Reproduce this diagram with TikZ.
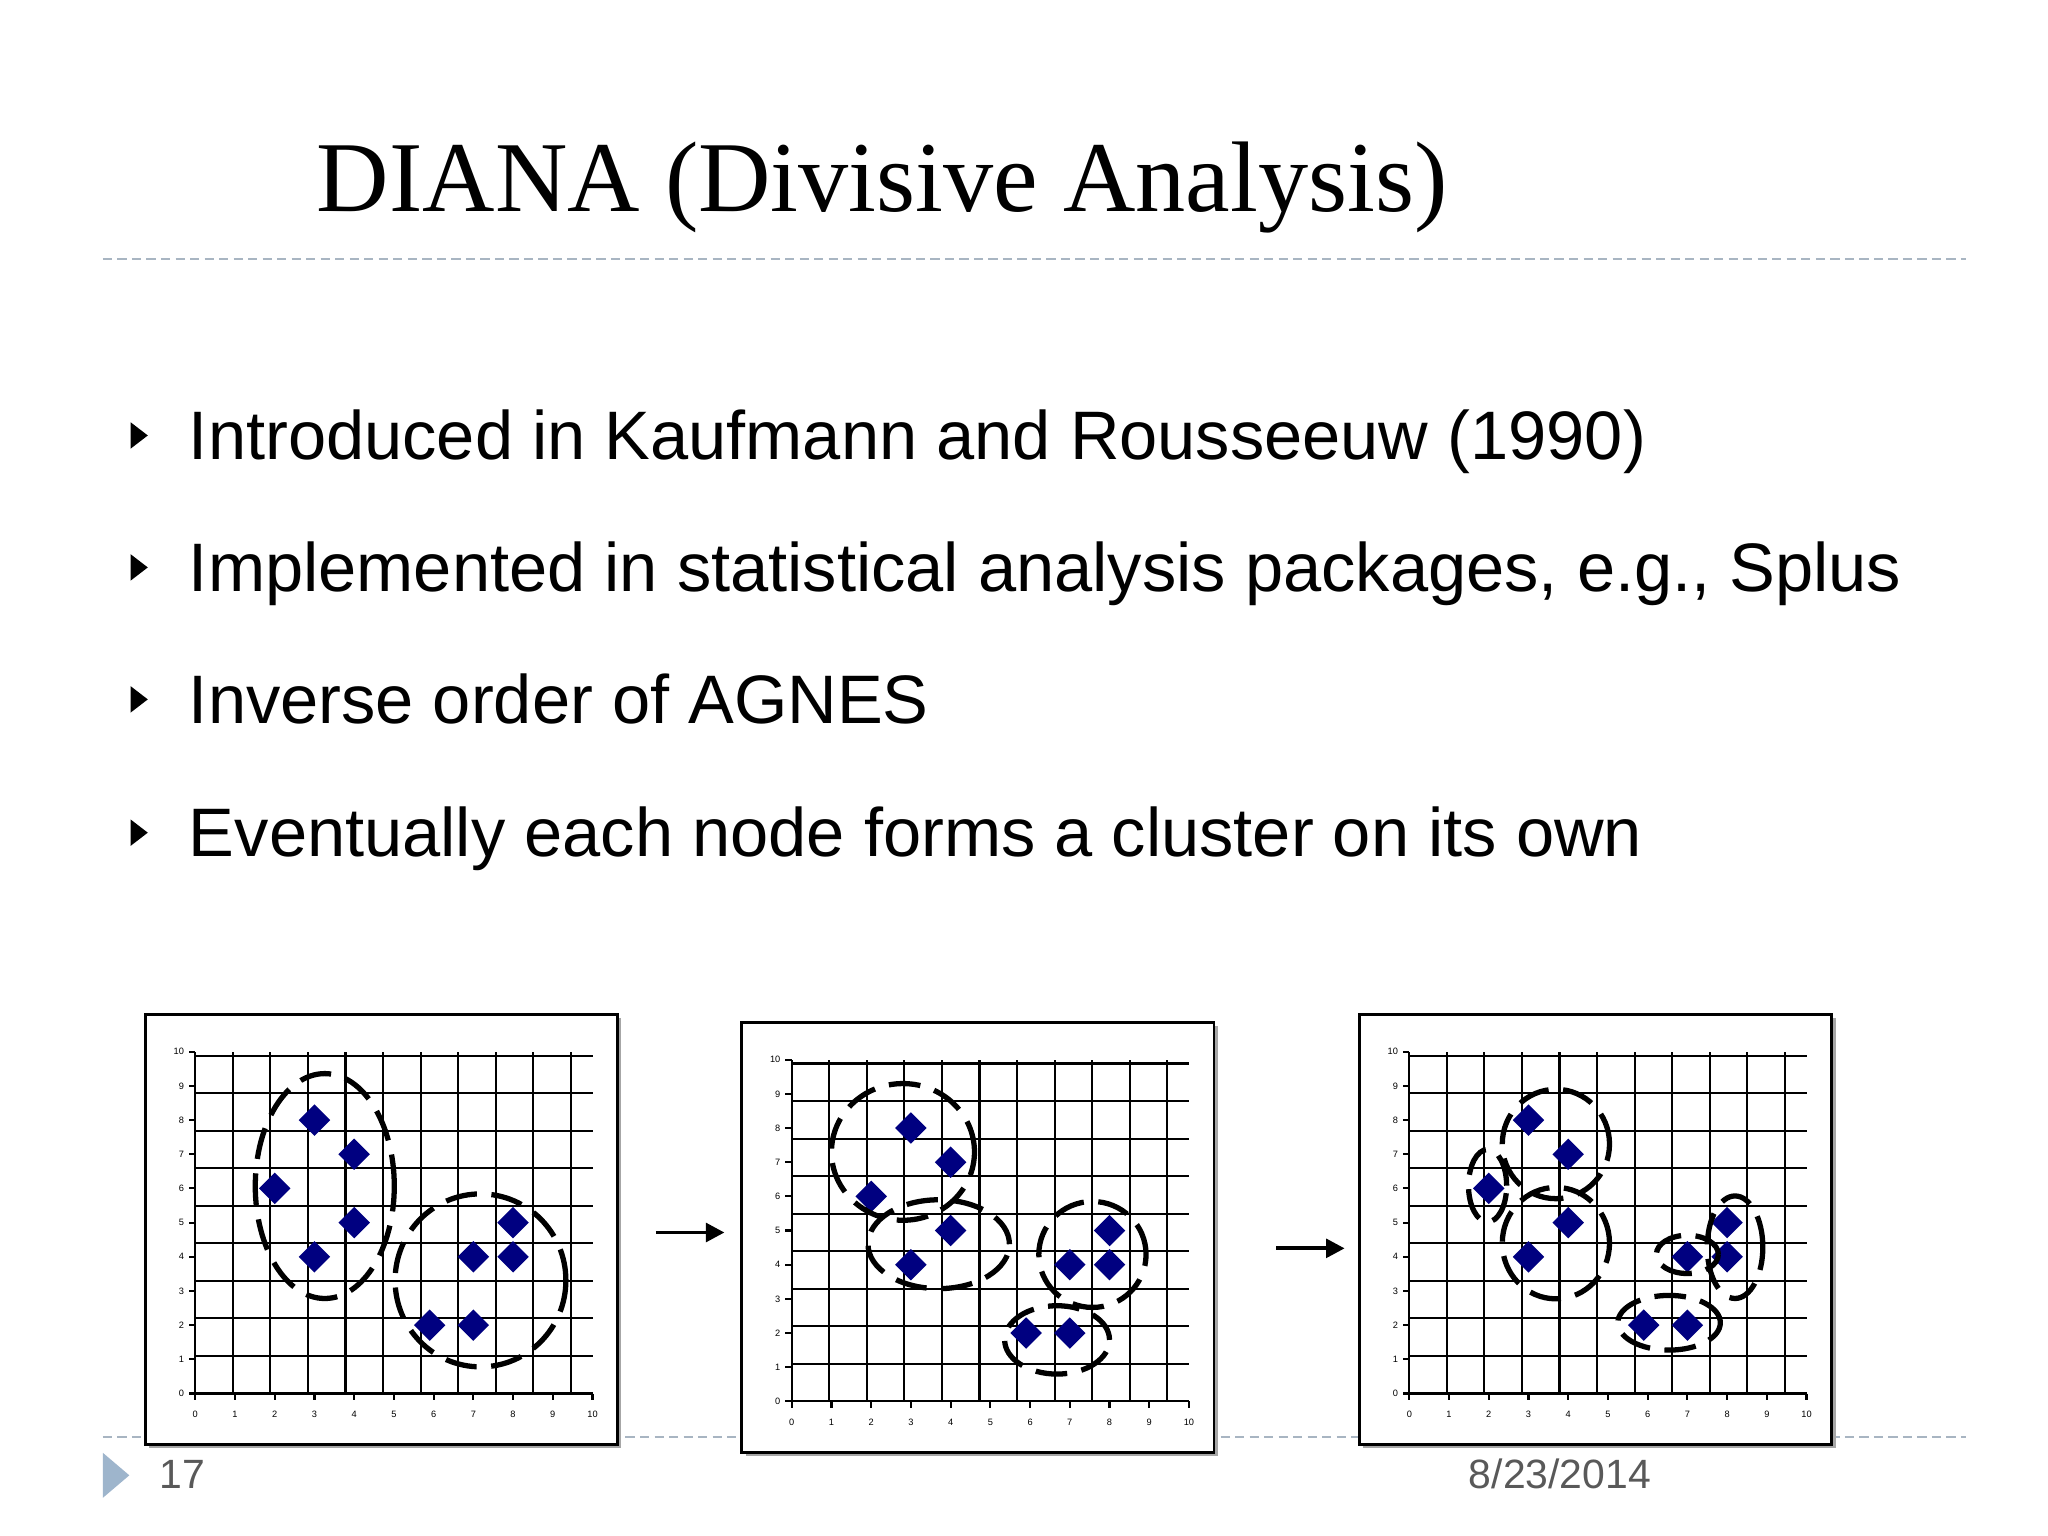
\documentclass[tikz,border=0pt]{standalone}
\usepackage{fontspec}
\setmainfont{Liberation Serif}
\newfontfamily\sansf{Liberation Sans}
\usetikzlibrary{shapes.geometric,arrows.meta}
\definecolor{navypt}{rgb}{0,0,0.5}
\definecolor{ruleblue}{rgb}{0.66,0.71,0.76}
\definecolor{footblue}{rgb}{0.62,0.71,0.80}
\definecolor{footgray}{rgb}{0.35,0.35,0.35}
\tikzset{
  pt/.style={diamond,fill=navypt,inner sep=0pt,minimum width=24pt,minimum height=24pt},
  gridline/.style={line width=1.6pt,black},
  ticklbl/.style={font=\sansf\fontsize{7}{7}\selectfont,inner sep=0pt},
  clus/.style={line width=4pt,dash pattern=on 24pt off 11pt,black},
  chartbox/.style={draw=black,line width=2pt,fill=white},
  rule/.style={ruleblue,line width=1.5pt,dash pattern=on 7pt off 4pt},
  bullettext/.style={font=\sansf\fontsize{52}{52}\selectfont,anchor=base west,inner sep=0pt},
  bulletmark/.style={fill=black},
  flowarrow/.style={line width=3pt,-{Triangle[length=14pt,width=14pt]}},
}
\newcommand{\plotframe}{%
  \fill[gray!70] (-1.26+0.1,-1.5-0.1) rectangle (10.63+0.1,11.08-0.1);
  \draw[chartbox] (-1.26,-1.5) rectangle (10.63,11.08);
  \draw[gridline] (0,0) grid (10,10);
  \foreach \i in {0,...,10}{
    \draw[gridline] (\i,0) -- (\i,-0.2);
    \draw[gridline] (0,\i) -- (-0.17,\i);
    \node[ticklbl] at (\i,-0.6) {\i};
    \node[ticklbl,anchor=east] at (-0.28,\i) {\i};
  }%
}
\begin{document}
\begin{tikzpicture}[x=1pt,y=-1pt]
\useasboundingbox[fill=white] (0,0) rectangle (1552,1164);
% title
\node[font=\fontsize{76}{76}\selectfont,anchor=base west,inner sep=0pt] (title) at (240,160) {DIANA (Divisive Analysis)};
\draw[rule] (78,196) -- (1490,196);
\draw[rule] (78,1089) -- (1490,1089);
% bullets
\foreach \yy/\txt [count=\k] in {348/{Introduced in Kaufmann and Rousseeuw (1990)},448/{Implemented in statistical analysis packages, e.g., Splus},548/{Inverse order of AGNES},649/{Eventually each node forms a cluster on its own}}{
  \fill[bulletmark] (99,\yy-28) -- (112,\yy-18) -- (99,\yy-8) -- cycle;
  \node[bullettext] (b\k) at (143,\yy) {\txt};
}
% chart 1
\begin{scope}[shift={(148,1056)},x=30.1pt,y=25.9pt]
  \plotframe
  \foreach \px/\py [count=\n] in {2/6,3/8,4/7,4/5,3/4,5.9/2,7/2,7/4,8/4,8/5}
    \node[pt] (p1n\n) at (\px,\py) {};
  \draw[clus] (3.26,6.07) ellipse [x radius=1.75, y radius=3.29];
  \draw[clus] (7.18,3.31) ellipse [x radius=2.15, y radius=2.53];
\end{scope}
% chart 2
\begin{scope}[shift={(600,1062)},x=30.1pt,y=25.9pt]
  \plotframe
  \foreach \px/\py [count=\n] in {2/6,3/8,4/7,4/5,3/4,5.9/2,7/2,7/4,8/4,8/5}
    \node[pt] (p2n\n) at (\px,\py) {};
  \draw[clus] (2.8,7.3) ellipse [x radius=1.8, y radius=2.0];
  \draw[clus] (3.7,4.6) ellipse [x radius=1.78, y radius=1.3];
  \draw[clus] (7.57,4.3) ellipse [x radius=1.35, y radius=1.55];
  \draw[clus] (6.68,1.8) ellipse [x radius=1.32, y radius=1.0];
\end{scope}
% chart 3
\begin{scope}[shift={(1068,1056)},x=30.1pt,y=25.9pt]
  \plotframe
  \foreach \px/\py [count=\n] in {2/6,3/8,4/7,4/5,3/4,5.9/2,7/2,7/4,8/4,8/5}
    \node[pt] (p3n\n) at (\px,\py) {};
  \draw[clus] (1.97,6.08) ellipse [x radius=0.48, y radius=1.06];
  \draw[clus] (3.69,7.3) ellipse [x radius=1.35, y radius=1.6];
  \draw[clus] (3.69,4.4) ellipse [x radius=1.35, y radius=1.63];
  \draw[clus] (6.54,2.07) ellipse [x radius=1.29, y radius=0.8];
  \draw[clus] (7.0,4.07) ellipse [x radius=0.78, y radius=0.56];
  \draw[clus] (8.2,4.28) ellipse [x radius=0.7, y radius=1.5];
\end{scope}
% arrows
\coordinate (a1s) at (497,934);
\coordinate (a1e) at (549,934);
\coordinate (a2s) at (967,946);
\coordinate (a2e) at (1019,946);
\draw[flowarrow] (a1s) -- (a1e);
\draw[flowarrow] (a2s) -- (a2e);
% footer
\fill[footblue] (78,1101) -- (98,1118) -- (78,1135) -- cycle;
\node[font=\sansf\fontsize{31}{31}\selectfont,text=footgray,anchor=base west,inner sep=0pt] (pg) at (121,1128) {17};
\node[font=\sansf\fontsize{31}{31}\selectfont,text=footgray,anchor=base west,inner sep=0pt] (dt) at (1113,1128) {8/23/2014};
\end{tikzpicture}
\end{document}
